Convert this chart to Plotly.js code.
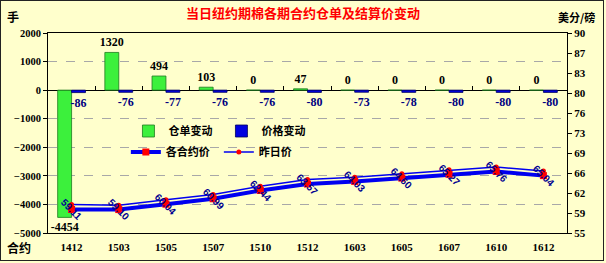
<!DOCTYPE html>
<html>
<head>
<meta charset="utf-8">
<script src="https://cdn.plot.ly/plotly-3.0.1.min.js"></script>
<style>
html,body{margin:0;padding:0;background:#FFFFCC;}
#wrap{position:relative;width:606px;height:263px;}
#chart{position:absolute;left:0;top:0;width:606px;height:263px;}
#frame{position:absolute;left:0;top:0;width:604px;height:261px;border:1px solid #222;box-sizing:border-box;pointer-events:none;}
</style>
</head>
<body>
<div id="wrap"><div id="chart"></div><div id="frame"></div></div>
<script>
const contracts = ['1412','1503','1505','1507','1510','1512','1603','1605','1607','1610','1612'];
const receiptChange = [-4454,1320,494,103,0,47,0,0,0,0,0];
const priceChange = [-86,-76,-77,-76,-76,-80,-73,-78,-80,-80,-80];
const settlePrice = [59.11,59.10,60.04,60.99,62.44,63.57,64.03,64.60,65.27,65.76,65.04];
const prevPrice = [59.97,59.86,60.81,61.75,63.20,64.37,64.76,65.38,66.07,66.56,65.84];
const leftTickVals = [-5000,-4000,-3000,-2000,-1000,0,1000,2000];
const rightTickVals = [55,58.5,62,65.5,69,72.5,76,79.5,83,86.5,90];
const rightTickText = ['55','59','62','66','69','73','76','80','83','87','90'];

const CJK = '"Noto Sans CJK SC", sans-serif';
const SERIF = '"Liberation Serif", "Times New Roman", serif';
const SANS = '"Liberation Sans", Arial, sans-serif';

const traces = [
  {type:'bar', name:'仓单变动', x:contracts, y:receiptChange, xaxis:'x', yaxis:'y',
   marker:{color:'#3CF03C', line:{color:'#1E7A1E', width:0.8}},
   text:receiptChange.map(String), textposition:'outside', cliponaxis:false, constraintext:'none',
   textfont:{family:SERIF, size:12, color:'#000', weight:'bold'}, legend:'legend'},
  {type:'bar', name:'价格变动', x:contracts, y:priceChange, xaxis:'x', yaxis:'y',
   marker:{color:'#0000E0', line:{color:'#000060', width:0.8}},
   text:priceChange.map(String), textposition:'outside', cliponaxis:false, constraintext:'none',
   textfont:{family:SERIF, size:12, color:'#000080', weight:'bold'}, legend:'legend'},
  {type:'scatter', mode:'none', x:contracts, y:contracts.map(()=>null), xaxis:'x2', yaxis:'y',
   showlegend:false, hoverinfo:'skip'},
  {type:'scatter', mode:'lines+markers', name:'各合约价', x:contracts, y:settlePrice, xaxis:'x', yaxis:'y2',
   line:{color:'#0000F0', width:4}, marker:{color:'#FF0000', symbol:'square', size:7},
   legend:'legend2', cliponaxis:false},
  {type:'scatter', mode:'lines+markers', name:'昨日价', x:contracts, y:prevPrice, xaxis:'x', yaxis:'y2',
   line:{color:'#0000F0', width:1.5}, marker:{color:'#FF0000', symbol:'circle', size:5},
   legend:'legend2', cliponaxis:false}
];

const annotations = contracts.map((c,i)=>({
  x:i, y:settlePrice[i], xref:'x', yref:'y2', text:settlePrice[i].toFixed(2),
  xanchor:'center', yanchor:'middle',
  showarrow:false, textangle:45, font:{family:SANS, size:10, color:'#000090', weight:'bold'}
}));
annotations.push(
  {xref:'paper', yref:'paper', x:-0.0674, y:1.085, xanchor:'center', yanchor:'middle', text:'手', showarrow:false,
   font:{family:CJK, size:12, color:'#000', weight:'bold'}},
  {xref:'paper', yref:'paper', x:1.019, y:1.08, xanchor:'center', yanchor:'middle', text:'美分/磅', showarrow:false,
   font:{family:CJK, size:11, color:'#000', weight:'bold'}},
  {xref:'paper', yref:'paper', x:-0.0559, y:-0.07, xanchor:'center', yanchor:'middle', text:'合约', showarrow:false,
   font:{family:CJK, size:12, color:'#000', weight:'bold'}}
);

const layout = {
  width:606, height:263,
  margin:{l:48, r:39, t:33, b:30},
  paper_bgcolor:'#FFFFCC', plot_bgcolor:'#FFFFCC',
  title:{text:'当日纽约期棉各期合约仓单及结算价变动', x:0.5, xref:'container', y:0.947, yref:'container',
         yanchor:'middle', font:{family:CJK, size:13, color:'#FF0000', weight:'bold'}},
  barmode:'group', bargap:0.41, bargroupgap:0,
  showlegend:true,
  xaxis:{type:'category', range:[-0.5,10.5], showline:true, mirror:true, linecolor:'#000', linewidth:1,
         ticks:'', showgrid:false, zeroline:false, ticklabelstandoff:4,
         tickfont:{family:SERIF, size:11, color:'#000', weight:'bold'}},
  xaxis2:{type:'category', overlaying:'x', anchor:'free', position:5/7, side:'bottom',
          range:[-0.5,10.5], ticks:'inside', tickson:'boundaries', ticklen:4, tickcolor:'#000',
          showticklabels:false, showline:false, showgrid:false, zeroline:false},
  yaxis:{range:[-5000,2000], tickvals:leftTickVals, ticks:'outside', ticklen:4, tickcolor:'#000',
         showline:true, linecolor:'#000', linewidth:1, showgrid:true, gridcolor:'#A8A8A8', griddash:'dash',
         gridwidth:1, zeroline:true, zerolinecolor:'#000', zerolinewidth:1,
         tickfont:{family:SERIF, size:10.5, color:'#000', weight:'bold'}},
  yaxis2:{range:[55,90], overlaying:'y', side:'right', anchor:'x', tickvals:rightTickVals, ticktext:rightTickText,
          ticks:'outside', ticklen:4, tickcolor:'#000', showline:true, linecolor:'#000', linewidth:1,
          showgrid:false, zeroline:false,
          tickfont:{family:SERIF, size:11, color:'#000', weight:'bold'}},
  legend:{orientation:'h', x:0.155, xanchor:'left', y:0.51, yanchor:'middle', bgcolor:'rgba(0,0,0,0)',
          entrywidth:48, itemwidth:30, font:{family:CJK, size:11, color:'#000', weight:'bold'}},
  legend2:{orientation:'h', x:0.15, xanchor:'left', y:0.405, yanchor:'middle', bgcolor:'rgba(0,0,0,0)',
          entrywidth:48, itemwidth:30, font:{family:CJK, size:11, color:'#000', weight:'bold'}},
  annotations:annotations
};

Plotly.newPlot('chart', traces, layout, {displayModeBar:false, staticPlot:true});
</script>
</body>
</html>
